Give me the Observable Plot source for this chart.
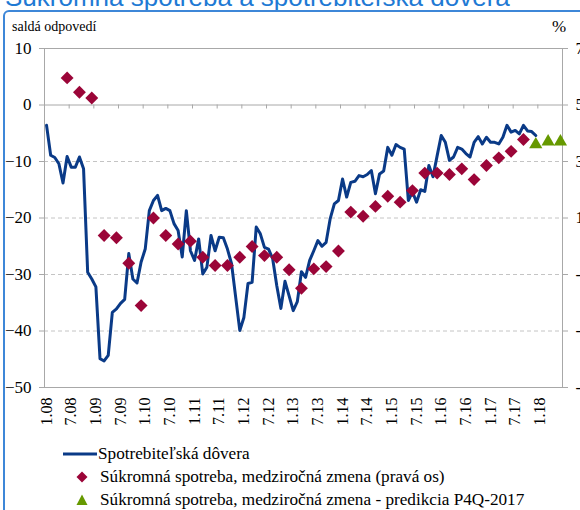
<!DOCTYPE html>
<html><head><meta charset="utf-8">
<script src="https://cdn.jsdelivr.net/npm/d3@7"></script>
<script src="https://cdn.jsdelivr.net/npm/@observablehq/plot@0.6"></script>
<style>
html,body{margin:0;padding:0;background:#fff;overflow:hidden;}
#wrap{position:relative;width:580px;height:510px;overflow:hidden;font-family:"Liberation Serif","Times New Roman",serif;color:#000;}
#title{position:absolute;left:5px;top:-16px;font-family:"Liberation Sans",Arial,sans-serif;font-size:26px;line-height:26px;color:#1f7ad4;white-space:nowrap;}
#frame{position:absolute;left:3px;top:10px;width:620px;height:560px;border:2px solid #3d87d8;border-radius:6px;box-sizing:border-box;}
#chart{position:absolute;left:0;top:0;}
#chart svg, #chart svg text{font-family:"Liberation Serif","Times New Roman",serif !important;}
.txt{position:absolute;white-space:nowrap;line-height:20px;}
.sw{position:absolute;}
</style>
</head><body>
<div id="wrap">
  <div id="title">Súkromná spotreba a spotrebiteľská dôvera</div>
  <div id="frame"></div>
  <div id="chart"></div>
  <div class="txt" style="left:12px;top:17px;font-size:14px;">saldá odpovedí</div>
  <div class="txt" style="left:552px;top:17px;font-size:17px;">%</div>
  <svg class="sw" style="left:60px;top:444px" width="40" height="20"><line x1="3" x2="37" y1="10" y2="10" stroke="#0a3a87" stroke-width="3"/></svg>
  <div class="txt" style="left:98px;top:444px;font-size:17.2px;">Spotrebiteľská dôvera</div>
  <svg class="sw" style="left:72px;top:467px" width="20" height="20"><path d="M10,4.5L15.5,10L10,15.5L4.5,10Z" fill="#9b0538"/></svg>
  <div class="txt" style="left:100px;top:467px;font-size:17.2px;">Súkromná spotreba, medziročná zmena (pravá os)</div>
  <svg class="sw" style="left:72px;top:490px" width="20" height="20"><path d="M10,4.5L15.5,15L4.5,15Z" fill="#669900"/></svg>
  <div class="txt" style="left:100px;top:490px;font-size:17.2px;">Súkromná spotreba, medziročná zmena - predikcia P4Q-2017</div>
</div>
<script>
// Monthly consumer confidence (balance of answers), Jan 2008 .. Dec 2017
const confidence = [
  -3.6, -8.9, -9.3, -10.4, -13.8, -9.1, -11.0, -11.0, -9.2, -11.3, -29.6, -30.8,
  -32.2, -44.9, -45.3, -44.3, -36.7, -36.1, -35.1, -34.4, -26.3, -30.8, -31.5, -27.8,
  -25.5, -18.7, -16.9, -16.0, -18.7, -18.3, -18.7, -21.0, -22.2, -26.9, -18.7, -25.8,
  -27.5, -23.7, -29.9, -28.7, -23.1, -25.8, -23.4, -23.5, -25.5, -28.1, -34.0, -39.9,
  -37.6, -31.6, -31.4, -21.6, -22.8, -25.2, -25.5, -27.2, -32.0, -36.0, -31.2, -33.8,
  -36.4, -34.8, -29.5, -30.5, -27.5, -25.8, -24.0, -25.0, -24.3, -20.1, -17.5, -16.9,
  -13.1, -16.3, -13.7, -13.5, -12.5, -12.7, -12.3, -11.6, -15.7, -12.2, -11.7, -7.5,
  -8.9, -7.0, -7.5, -7.8, -16.9, -15.4, -17.2, -15.0, -15.3, -10.7, -12.7, -9.0,
  -5.4, -6.6, -9.8, -9.2, -7.5, -7.8, -8.6, -9.2, -6.6, -5.6, -6.9, -5.7,
  -6.6, -6.6, -6.9, -5.7, -3.6, -4.8, -4.5, -5.1, -3.6, -4.6, -4.7, -5.4
];
// Quarterly private consumption y/y % (right axis), Q2 2008 .. Q3 2017
const consumption = [
  5.96, 5.45, 5.25, 0.38, 0.30, -0.6, -2.1, 1.0, 0.38, 0.08, 0.18, -0.39,
  -0.68, -0.68, -0.39, -0.01, -0.33, -0.39, -0.83, -1.49, -0.8, -0.72, -0.17, 1.21,
  1.06, 1.41, 1.77, 1.56, 1.97, 2.59, 2.59, 2.54, 2.74, 2.36, 2.86, 3.13, 3.36, 3.78
];
// Forecast Q4 2017 .. Q2 2018
const forecast = [3.6, 3.7, 3.7];
const xTickLabels = ["1.08","7.08","1.09","7.09","1.10","7.10","1.11","7.11","1.12","7.12",
  "1.13","7.13","1.14","7.14","1.15","7.15","1.16","7.16","1.17","7.17","1.18"];
const leftTicks = [10, 0, -10, -20, -30, -40, -50];
const rightTicks = [7, 5, 3, 1, -1, -3, -5];
const gridDashed = [-10, -20, -30, -40];

// month index: 0 = Jan 2008; quarterly points at the last month of each quarter
const lineData = confidence.map((v, i) => ({m: i, v}));
const diamData = consumption.map((r, k) => ({m: 5 + 3 * k, r}));
const triData = forecast.map((r, k) => ({m: 5 + 3 * (consumption.length + k), r}));
const toLeft = r => (r - 5) * 5;
const labelPos = xTickLabels.map((_, i) => i * 6);
const tickPos = xTickLabels.map((_, i) => 5.5 + i * 6);
const serif = "Liberation Serif";

const chart = Plot.plot({
  width: 580, height: 440,
  marginLeft: 44, marginRight: 18, marginTop: 48, marginBottom: 53,
  x: {type: "linear", domain: [-0.5, 125.5]},
  y: {domain: [-50, 10]},
  style: {fontFamily: serif, fontSize: "17px", color: "#000", background: "transparent", overflow: "visible"},
  marks: [
    Plot.ruleY(gridDashed, {stroke: "#c4c4c4", strokeDasharray: "4,3"}),
    Plot.frame({stroke: "#a8a8a8"}),
    Plot.ruleY([0], {stroke: "#a8a8a8"}),
    Plot.ruleX(tickPos, {y1: 0, y2: 0, insetBottom: -4, stroke: "#a8a8a8"}),
    Plot.axisY({anchor: "left", ticks: leftTicks, tickSize: 5, tickPadding: 8, label: null, stroke: "#a8a8a8", fontSize: 17, fontFamily: serif}),
    Plot.axisY({anchor: "right", ticks: leftTicks, tickSize: 5, tickPadding: 8, label: null, stroke: "#a8a8a8", fontSize: 17, fontFamily: serif,
      tickFormat: d => String(rightTicks[leftTicks.indexOf(d)])}),
    Plot.axisX({anchor: "bottom", ticks: labelPos, tickSize: 0, tickPadding: 10, tickRotate: -90, label: null, fontSize: 16, fontFamily: serif,
      tickFormat: d => xTickLabels[Math.round(d / 6)]}),
    Plot.line(lineData, {x: "m", y: "v", stroke: "#0a3a87", strokeWidth: 3, strokeLinejoin: "round"}),
    Plot.dot(diamData, {x: "m", y: d => toLeft(d.r), symbol: "diamond2", r: 5.8, fill: "#9b0538", stroke: "none"}),
    Plot.dot(triData, {x: "m", y: d => toLeft(d.r), symbol: "triangle", r: 4.9, fill: "#669900", stroke: "none"})
  ]
});
document.getElementById("chart").appendChild(chart);
</script>
</body></html>
